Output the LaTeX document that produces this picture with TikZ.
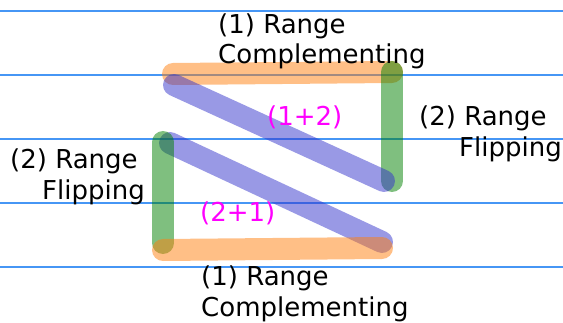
\documentclass[tikz,border=0pt]{standalone}
\usepackage{fontspec}
\setmainfont{DejaVu Sans}
\usepackage{xcolor}
\usetikzlibrary{positioning}

\definecolor{guideblue}{RGB}{70,150,245}
\definecolor{rcorange}{RGB}{255,127,14}
\definecolor{rfgreen}{RGB}{0,128,0}
\definecolor{mixblue}{RGB}{51,51,204}
\definecolor{sumpink}{RGB}{255,0,255}

\begin{document}
\begin{tikzpicture}[x=1pt, y=1pt,
  guide/.style={guideblue, line width=1.3pt},
  band/.style={line width=22pt, line cap=round, opacity=0.5},
  lbl/.style={font=\fontsize{26}{31}\selectfont, inner sep=0pt, anchor=base west, align=left},
  mix/.style={lbl, text=sumpink}]
\useasboundingbox (0,0) rectangle (563,322);
% guide lines
\foreach \y in {311,247,183,119,55}
  \draw[guide] (0,\y) -- (563,\y);
% corners
\coordinate (tl) at (173,248);
\coordinate (tr) at (392,250);
\coordinate (rb) at (392,141);
\coordinate (d1a) at (174,237);
\coordinate (d1b) at (384,141);
\coordinate (lt) at (163,180);
\coordinate (lb) at (163,79);
\coordinate (d2a) at (170,179);
\coordinate (d2b) at (382,80);
\coordinate (bl) at (163,72);
\coordinate (br) at (382,74);
% bands
\draw[band, rcorange] (tl) -- (tr);
\draw[band, rfgreen] (tr) -- (rb);
\draw[band, mixblue] (d1a) -- (d1b);
\draw[band, mixblue] (d2a) -- (d2b);
\draw[band, rfgreen] (lt) -- (lb);
\draw[band, rcorange] (bl) -- (br);
% labels (anchored at the last line)
\node[lbl] (topc) at (218,258) {(1) Range\\Complementing};
\node[lbl] (rightf) at (419,165) {(2) Range\\\hspace*{40pt}Flipping};
\node[lbl] (leftf) at (10,123) {(2) Range\\\hspace*{32pt}Flipping};
\node[lbl] (botc) at (201,6) {(1) Range\\Complementing};
\node[mix] (onetwo) at (267,196) {(1+2)};
\node[mix] (twoone) at (200,101) {(2+1)};
\end{tikzpicture}
\end{document}
